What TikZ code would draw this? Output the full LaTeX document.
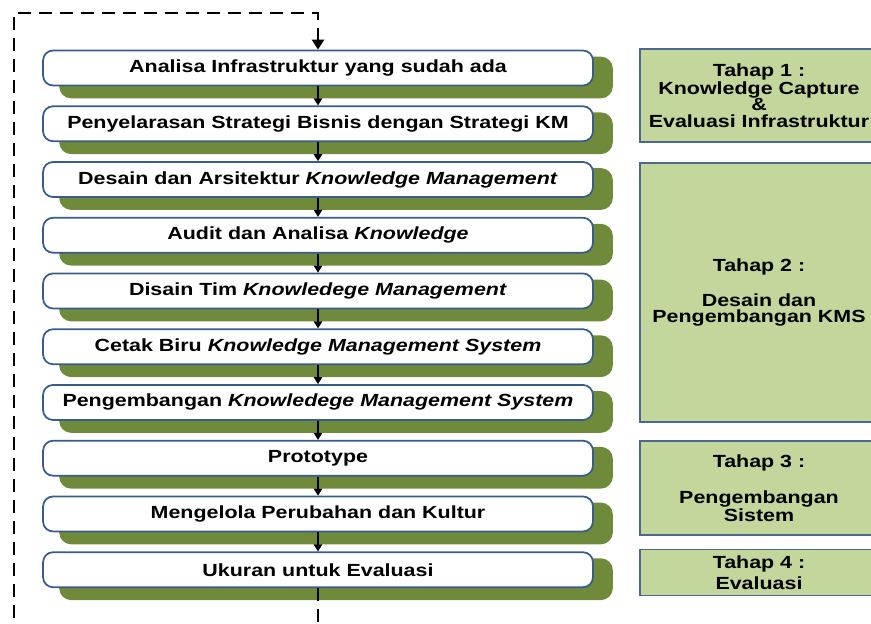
\documentclass[tikz,border=0pt]{standalone}
\usepackage{fontspec}
\setmainfont{Liberation Sans}[FakeStretch=1.22]
\usetikzlibrary{positioning,arrows.meta,calc,backgrounds}
\definecolor{boxline}{HTML}{385D8A}
\definecolor{shadowgreen}{HTML}{6F8A3A}
\definecolor{stagefill}{HTML}{C3D69B}
\definecolor{stageline}{HTML}{4A6890}

\begin{document}
\begin{tikzpicture}[x=0.02cm, y=-0.02cm,
  font=\fontsize{10}{9.2}\selectfont\bfseries,
  stepbox/.style={draw=boxline, line width=1pt, fill=white, rounded corners=0.2cm,
    minimum width=11cm, minimum height=0.7cm, inner sep=1pt},
  stagebox/.style={draw=stageline, line width=0.8pt, fill=stagefill,
    minimum width=4.76cm, align=center},
  flow/.style={line width=0.8pt, -{Triangle[length=0.14cm, width=0.17cm]}},
  loopback/.style={line width=1.6pt, dash pattern=on 0.26cm off 0.16cm,
    -{Triangle[length=0.2cm, width=0.24cm]}},
  node distance=0.38cm]
 \useasboundingbox (0,0) rectangle (871,624);
 \clip (0,0) rectangle (871,624);

 \node[stepbox] (s1) at (318,68) {Analisa Infrastruktur yang sudah ada};
 \node[stepbox, below=of s1] (s2) {Penyelarasan Strategi Bisnis dengan Strategi KM};
 \node[stepbox, below=of s2] (s3) {Desain dan Arsitektur \textit{Knowledge Management}};
 \node[stepbox, below=of s3] (s4) {Audit dan Analisa \textit{Knowledge}};
 \node[stepbox, below=of s4] (s5) {Disain Tim \textit{Knowledege Management}};
 \node[stepbox, below=of s5] (s6) {Cetak Biru \textit{Knowledge Management System}};
 \node[stepbox, below=of s6] (s7) {Pengembangan \textit{Knowledege Management System}};
 \node[stepbox, below=of s7] (s8) {Prototype};
 \node[stepbox, below=of s8] (s9) {Mengelola Perubahan dan Kultur};
 \node[stepbox, below=of s9] (s10) {Ukuran untuk Evaluasi};

 \begin{scope}[on background layer]
  \foreach \i in {1,...,10}
   \fill[shadowgreen, rounded corners=0.24cm]
     ($(s\i.north west)+(17,7)$) rectangle ($(s\i.south east)+(19,12)$);
 \end{scope}

 \foreach \a/\b in {1/2,2/3,3/4,4/5,5/6,6/7,7/8,8/9,9/10}
  \draw[flow] (s\a.south) -- (s\b.north);

 \coordinate (lowleft) at (14,640);
 \coordinate (topleft) at (14,13);
 \draw[loopback] (s10.south) |- (lowleft) -- (topleft) -| (s1.north);

 \node[stagebox, minimum height=1.86cm] (t1) at (759,95.5)
   {Tahap 1 :\\Knowledge Capture\\\&\\Evaluasi Infrastruktur};
 \node[stagebox, minimum height=5.18cm] (t2) at (759,292.5)
   {Tahap 2 :\\[10pt]Desain dan\\Pengembangan KMS};
 \node[stagebox, minimum height=1.88cm] (t3) at (759,488)
   {Tahap 3 :\\[10pt]Pengembangan\\Sistem};
 \node[stagebox, minimum height=0.78cm] (t4) at (759,572.5)
   {Tahap 4 :\\[1.6pt]Evaluasi};
\end{tikzpicture}
\end{document}
